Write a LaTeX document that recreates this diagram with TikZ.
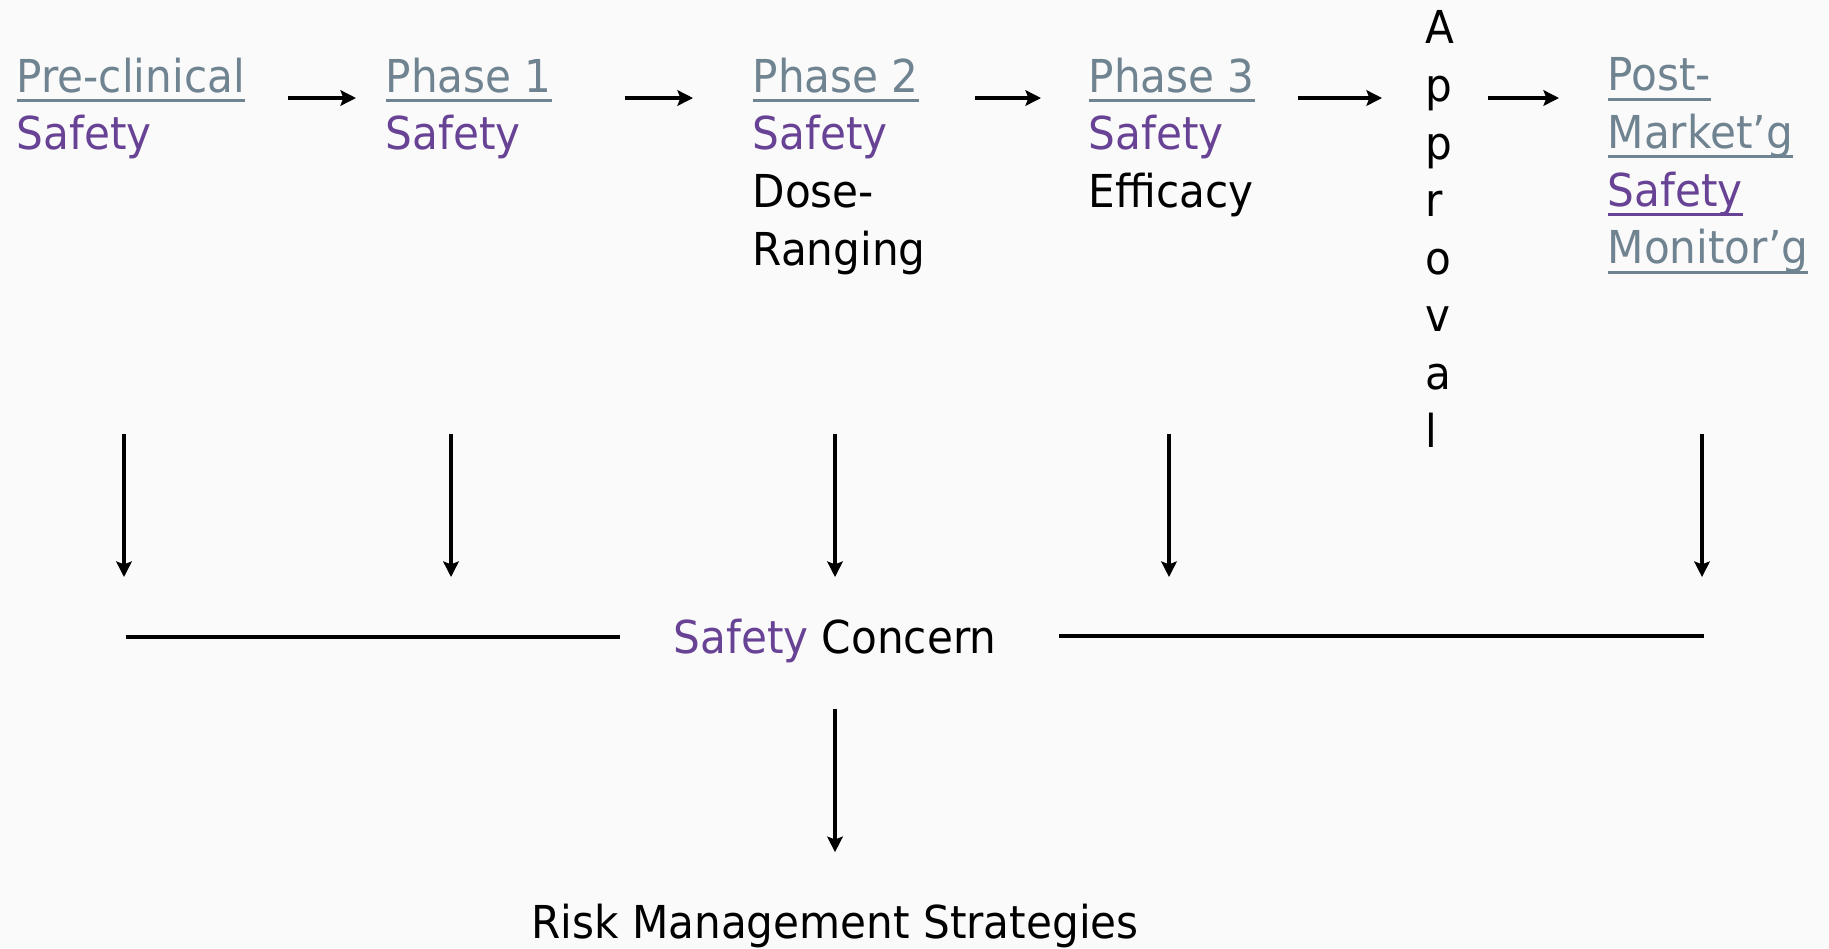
\documentclass[tikz,border=0pt]{standalone}
\usepackage{fontspec}
\setmainfont{DejaVu Sans}[FakeStretch=0.93]
\usetikzlibrary{arrows.meta,positioning}

\definecolor{linkgray}{RGB}{111,131,145}
\definecolor{safepurple}{RGB}{104,66,148}
\definecolor{pagebg}{RGB}{250,250,250}

% underlined text, rule in the current colour
\newcommand{\lnk}[1]{\setbox0=\hbox{#1}\rlap{\rule[-2.85pt]{\wd0}{0.85pt}}\box0}
\newcommand{\glink}[1]{\textcolor{linkgray}{\lnk{#1}}}
\newcommand{\safe}{\textcolor{safepurple}{Safety}}

\begin{document}
\begin{tikzpicture}[x=0.1mm,y=-0.1mm,font=\fontsize{12.9}{16.4}\selectfont]
 \tikzset{phase node/.style={anchor=north west, align=left,
 		inner sep=0pt}, }
 \tikzset{text node/.style={inner sep=0pt}, }
 \tikzset{linea/.style={-{Stealth[length=4.4pt,width=4.4pt,inset=0.8pt]},
 		line width=1.1pt},}
 \tikzset{rule/.style={line width=1.1pt},}
 \fill[pagebg] (0,0) rectangle (1829,948);
 \useasboundingbox (0,0) rectangle (1829,948);

 \node[phase node] (pre) at (16,57) {\glink{Pre-clinical}\\\safe};
 \node[phase node] (ph1) at (385,57) {\glink{Phase 1}\\\safe};
 \node[phase node] (ph2) at (752,57) {\glink{Phase 2}\\\safe\\Dose-\\Ranging};
 \node[phase node] (ph3) at (1088,57) {\glink{Phase 3}\\\safe\\Efficacy};
 \node[phase node] (appr) at (1425,10) {A\\p\\p\\r\\o\\v\\a\\l};
 \node[phase node] (post) at (1607,57) {\glink{Post-}\\\glink{Market’g}\\
 	\textcolor{safepurple}{\lnk{Safety}}\\\glink{Monitor’g}};

 \node[text node, anchor=base] (sc) at (835,653) {\safe\ Concern};
 \node[text node, below=24mm of sc] (rms) {Risk Management Strategies};

 \coordinate (lvl) at (0,98);
 \coordinate (lineL) at (126,637);
 \coordinate (lineR) at (1704,636);
 \foreach \n/\x in {1/124,2/451,3/835,4/1169,5/1702} {
 	\coordinate (up\n) at (\x,434);
 	\coordinate (dn\n) at (\x,577);
 }

 \foreach \x/\y/\a/\b in {pre/ph1/4.3/2.9,ph1/ph2/7.2/5.9,ph2/ph3/4.9/4.7,
 	ph3/appr/4.2/4.3,appr/post/3.3/4.8}
 \path[linea] (\x.east |- lvl) edge[shorten <=\a mm, shorten >=\b mm] (\y.west |- lvl);
 \foreach \n in {1,...,5}
 \path[linea] (up\n) edge (dn\n);
 \draw[rule, shorten >=5.3mm] (lineL) -- (lineL -| sc.west);
 \draw[rule, shorten <=6.2mm] (lineR -| sc.east) -- (lineR);
 \path[linea] (sc) edge[shorten <=4.6mm, shorten >=5.1mm] (rms);
% %%
\end{tikzpicture}
\end{document}
